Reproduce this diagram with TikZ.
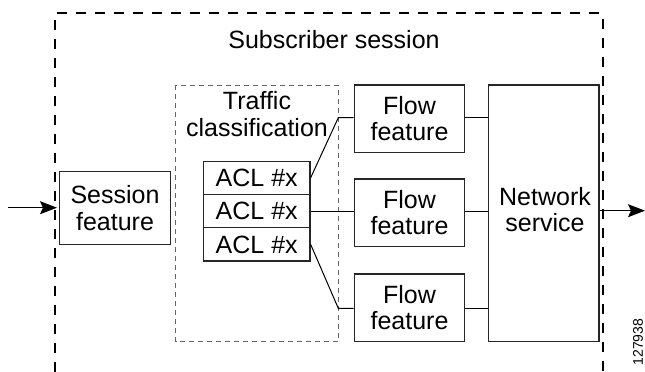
\documentclass[tikz,border=0pt]{standalone}
\usepackage{fontspec}
\setmainfont{Liberation Sans}
\usetikzlibrary{arrows.meta}
\begin{document}
\begin{tikzpicture}[x=1pt,y=-1pt,
  every node/.style={font=\fontsize{25}{26.5}\selectfont, inner sep=0pt, align=center},
  box/.style={draw=black!85, line width=1.2pt},
  conn/.style={draw=black, line width=1pt},
  arr/.style={conn, -{Stealth[length=17pt,width=13pt,inset=3pt]}}
]
\useasboundingbox (0,0) rectangle (645,372);
% outer subscriber session (open at bottom)
\draw[line width=2pt, dash pattern=on 10pt off 9pt] (55,372) -- (55,13.3) -- (603,13.3) -- (603,372);
\node (title) at (334,40) {Subscriber session};
% traffic classification dashed box
\draw[draw=black!60, line width=0.9pt, dash pattern=on 5pt off 4pt] (175.7,85) rectangle (338.3,341.7);
\node (tc) at (257,114) {Traffic\\classification};
% session feature
\node[box, minimum width=111.4pt, minimum height=72.3pt] (sess) at (115,208) {Session\\feature};
% ACL stack
\node[box, minimum width=106.7pt, minimum height=33.3pt] (acl1) at (256.7,177.8) {ACL \#x};
\node[box, minimum width=106.7pt, minimum height=33.3pt] (acl2) at (256.7,211.1) {ACL \#x};
\node[box, minimum width=106.7pt, minimum height=33.3pt] (acl3) at (256.7,244.4) {ACL \#x};
% flow features
\node[box, minimum width=110.7pt, minimum height=67.7pt] (f1) at (409.5,118.8) {Flow\\feature};
\node[box, minimum width=110.7pt, minimum height=67.7pt] (f2) at (409.5,212.8) {Flow\\feature};
\node[box, minimum width=110.7pt, minimum height=67.7pt] (f3) at (409.5,307.8) {Flow\\feature};
% network service
\node[box, minimum width=110.7pt, minimum height=256.7pt] (net) at (543.6,213.3) {};
\node (nettext) at (545,209.5) {Network\\service};
% input / output
\coordinate (in) at (8,207.7);
\coordinate (inTip) at (57,207.7);
\draw[arr] (in) -- (inTip);
\coordinate (out) at (645,210.7);
\draw[arr] (net.east |- out) -- (out);
% connectors ACL -> flows
\coordinate (b1) at (338.3,117.7);
\coordinate (b3) at (338.3,308.3);
\draw[conn] (acl1.east) -- (b1) -- (f1.west |- b1);
\draw[conn] (acl2.east) -- (f2.west |- acl2.east);
\draw[conn] (acl3.east) -- (b3) -- (f3.west |- b3);
% flows -> network
\draw[conn] (f1.east |- b1) -- (net.west |- b1);
\draw[conn] (f2.east |- acl2.east) -- (net.west |- acl2.east);
\draw[conn] (f3.east |- b3) -- (net.west |- b3);
% figure id
\node[rotate=90, font=\fontsize{14}{16}\selectfont] (fig) at (638,342) {127938};
\end{tikzpicture}
\end{document}
